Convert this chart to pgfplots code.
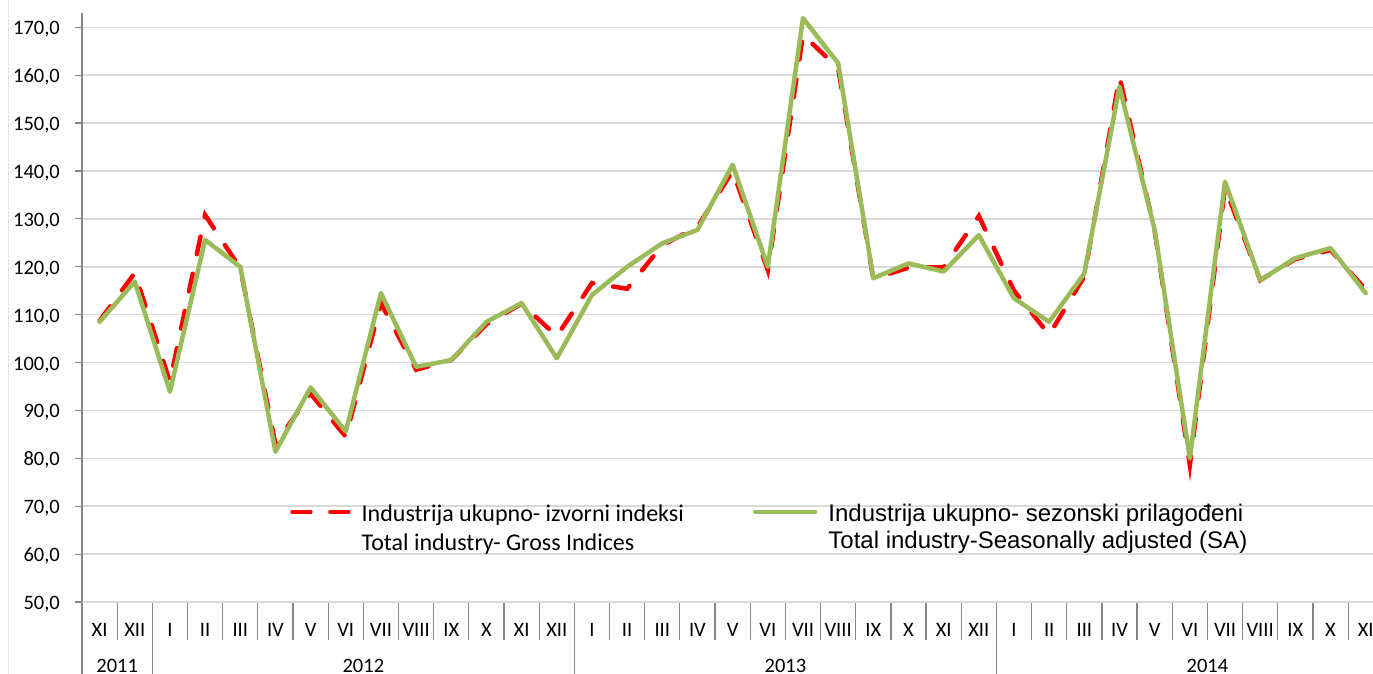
\documentclass[border=0pt]{standalone}
\usepackage{pgfplots}
\pgfplotsset{compat=1.18}
\usepackage{fontspec}
\setmainfont{Carlito}
\newfontfamily\arialf{Liberation Sans}
\definecolor{sagreen}{HTML}{9BBB59}
\definecolor{axgray}{HTML}{868686}
\definecolor{gridgray}{HTML}{D9D9D9}
\pgfplotstableread{
x gross sa
0 108.7 108.5
1 118.7 116.9
2 96.0 93.9
3 130.8 125.6
4 119.7 120.0
5 83.0 81.4
6 93.5 94.8
7 84.5 85.6
8 112.4 114.5
9 98.5 99.1
10 100.5 100.5
11 108.0 108.5
12 112.3 112.4
13 105.5 100.9
14 116.6 114.1
15 115.4 120.0
16 124.5 124.9
17 128.3 127.7
18 140.0 141.3
19 119.3 120.0
20 168.4 171.9
21 161.5 162.5
22 117.5 117.6
23 119.8 120.7
24 119.9 119.0
25 130.6 126.6
26 115.0 113.4
27 105.8 108.5
28 118.0 118.6
29 159.6 157.6
30 127.5 127.7
31 78.6 80.0
32 136.5 137.8
33 117.2 117.2
34 121.6 121.8
35 123.5 123.9
36 115.2 114.5
}\datatable
\pgfplotsset{
  common/.style={
    scale only axis, width=1301.3bp, height=589.3bp,
    at={(82bp,72bp)}, anchor=south west,
    xmin=-0.5, xmax=36.5, ymin=50, ymax=173.05,
    tick style={axgray, line width=1.2bp},
    axis line style={-, axgray, line width=1.2bp},
    tick label style={font=\fontsize{20.5bp}{24bp}\selectfont},
  },
  redleg/.style={legend image code/.code={\draw[##1] (0bp,10bp) -- (56bp,10bp);}},
  greenleg/.style={legend image code/.code={\draw[##1] (0bp,10bp) -- (60bp,10bp);}},
}
\begin{document}
\begin{tikzpicture}
\useasboundingbox (0,0) rectangle (1373bp,674bp);
\clip (0,0) rectangle (1373bp,674bp);
\draw[gray!20, line width=1bp] (8bp,0) -- (8bp,674bp);
% year separators
\begin{axis}[common,
  axis x line*=bottom, axis y line=none, tick align=outside,
  xtick={-0.5,1.5,13.5,25.5}, xticklabels={},
  major tick length=80bp, ytick=\empty,
  clip mode=individual]
  \node[anchor=base, inner sep=0pt, font=\fontsize{20.5bp}{24bp}\selectfont] at (axis cs:0.5,50) [yshift=-70bp] {2011};
  \node[anchor=base, inner sep=0pt, font=\fontsize{20.5bp}{24bp}\selectfont] at (axis cs:7.5,50) [yshift=-70bp] {2012};
  \node[anchor=base, inner sep=0pt, font=\fontsize{20.5bp}{24bp}\selectfont] at (axis cs:19.5,50) [yshift=-70bp] {2013};
  \node[anchor=base, inner sep=0pt, font=\fontsize{20.5bp}{24bp}\selectfont] at (axis cs:31.5,50) [yshift=-70bp] {2014};
\end{axis}
% month categories
\begin{axis}[common,
  axis x line*=bottom, axis y line=none, tick align=outside,
  xtick={-0.5,0.5,...,35.5},
  xticklabels={XI,XII,I,II,III,IV,V,VI,VII,VIII,IX,X,XI,XII,I,II,III,IV,V,VI,VII,VIII,IX,X,XI,XII,I,II,III,IV,V,VI,VII,VIII,IX,X,XI},
  xticklabel style={anchor=base, xshift=17.585bp, yshift=4bp},
  major tick length=38bp, ytick=\empty]
\end{axis}
% main axis
\begin{axis}[common,
  axis x line=none, axis y line*=left, tick align=outside,
  xtick=\empty,
  ytick={50,60,...,170},
  major tick length=7bp,
  ymajorgrids, grid style={gridgray, line width=1.5bp},
  yticklabel style={anchor=base east, inner sep=0pt, xshift=-15bp, yshift=-7.5bp},
  /pgf/number format/.cd, fixed, fixed zerofill, precision=1, use comma, 1000 sep={}, assume math mode=true,
  /pgfplots/.cd,
  legend columns=2,
  legend style={at={(axis cs:5.414,71.0)}, anchor=north west, draw=none, fill=none,
    inner sep=0pt, nodes={inner sep=0pt, anchor=base west},
    /tikz/every odd column/.append style={column sep=11bp},
    /tikz/every even column/.append style={column sep=69bp}},
  legend cell align=left,
]
\addplot[red, line width=4.5bp, line cap=round, dash pattern=on 18bp off 20bp, redleg]
  table[x=x, y=gross] {\datatable};
\addlegendentry{\fontsize{24bp}{29bp}\selectfont\begin{tabular}[t]{@{}l@{}}Industrija ukupno- izvorni indeksi\\Total industry- Gross Indices\end{tabular}}
\addplot[sagreen, line width=4.5bp, line cap=round, line join=round, greenleg]
  table[x=x, y=sa] {\datatable};
\addlegendentry{\arialf\fontsize{24bp}{26.7bp}\selectfont\begin{tabular}[t]{@{}l@{}}Industrija ukupno- sezonski prilagođeni\\Total industry-Seasonally adjusted (SA)\end{tabular}}
\end{axis}
\end{tikzpicture}
\end{document}
